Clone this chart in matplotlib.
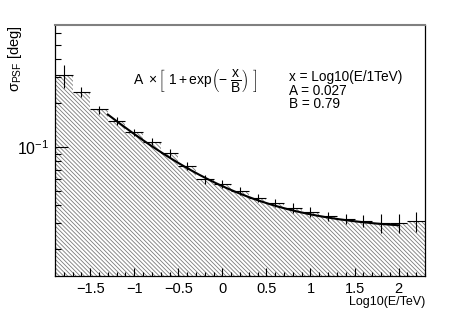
import numpy as np
import matplotlib
matplotlib.use("Agg")
import matplotlib.pyplot as plt
from matplotlib.ticker import MultipleLocator, LogLocator, NullFormatter

plt.rcParams['font.family'] = ['Liberation Sans', 'DejaVu Sans']
plt.rcParams['mathtext.fontset'] = 'custom'
plt.rcParams['mathtext.rm'] = 'Liberation Sans'
plt.rcParams['mathtext.it'] = 'Liberation Sans'
plt.rcParams['mathtext.bf'] = 'Liberation Sans:bold'
plt.rcParams['hatch.linewidth'] = 0.6

# Data
bin_edges = np.round(np.arange(-1.9, 2.3001, 0.2), 2)
bin_centers = (bin_edges[:-1] + bin_edges[1:]) / 2
sigma_psf = [0.311, 0.239, 0.181, 0.151, 0.126, 0.109, 0.0910, 0.0745, 0.0601,
             0.0558, 0.0500, 0.0450, 0.0412, 0.0382, 0.0360, 0.0337, 0.0321,
             0.0313, 0.0303, 0.0303, 0.0311]
sigma_err = [0.056, 0.019, 0.0114, 0.0095, 0.0070, 0.0060, 0.0057, 0.0047, 0.0038,
             0.0035, 0.0032, 0.0028, 0.0026, 0.0030, 0.0028, 0.0025, 0.0025,
             0.0030, 0.0045, 0.0045, 0.0049]
fit_A = 0.027
fit_B = 0.79
fit_range = (-1.3, 2.0)

fig = plt.figure(figsize=(4.63, 3.16), dpi=100)
ax = fig.add_axes([55/463, 40/316, 370/463, 251/316])

ymin, ymax = 0.0131, 0.685
ax.stairs(sigma_psf, bin_edges, baseline=ymin*0.5, fill=True, facecolor='none',
          edgecolor='#7a7a7a', linewidth=0, hatch='\\' * 8)
ax.errorbar(bin_centers, sigma_psf, xerr=0.1, yerr=sigma_err, fmt='none',
            ecolor='black', elinewidth=0.8, capsize=0)
xf = np.linspace(fit_range[0], fit_range[1], 300)
ax.plot(xf, fit_A * (1 + np.exp(-xf / fit_B)), color='black', lw=1.5)

ax.set_yscale('log')
ax.set_xlim(bin_edges[0], bin_edges[-1])
ax.set_ylim(ymin, ymax)

ax.xaxis.set_major_locator(MultipleLocator(0.5))
ax.xaxis.set_minor_locator(MultipleLocator(0.1))
ax.yaxis.set_major_locator(LogLocator(base=10))
ax.yaxis.set_minor_locator(LogLocator(base=10, subs=np.arange(2, 10)))
ax.yaxis.set_minor_formatter(NullFormatter())
ax.tick_params(axis='x', which='major', direction='in', length=6, width=0.8,
               labelsize=10.5, pad=4)
ax.tick_params(axis='x', which='minor', direction='in', length=3, width=0.8)
ax.tick_params(axis='y', which='major', direction='in', length=9, width=0.8,
               labelsize=11.5, pad=4)
ax.tick_params(axis='y', which='minor', direction='in', length=4.5, width=0.8)
ax.xaxis.set_major_formatter(plt.FuncFormatter(
    lambda v, p: ('\u2212' if v < 0 else '') + ('%g' % abs(v))))

for s in ax.spines.values():
    s.set_linewidth(0.9)
ax.spines['top'].set_color('#808080')
ax.spines['top'].set_linewidth(1.5)

fig.text(15/463, 1 - 25/316, r'$\sigma_{\rm PSF}$ [deg]', rotation=90,
         ha='center', va='top', fontsize=10.5)
fig.text(425/463, 1 - 302/316, 'Log10(E/TeV)', ha='right', va='center', fontsize=9)

fig.text(195/463, 1 - 80/316,
         r'$\mathrm{A}\ \times \left[\ 1 + \mathrm{exp}\left(-\ \dfrac{x}{B}\right)\ \right]$',
         ha='center', va='center', fontsize=10)
fig.text(289/463, 1 - 77/316, 'x = Log10(E/1TeV)', ha='left', va='center', fontsize=9.8)
fig.text(289/463, 1 - 91/316, 'A = 0.027', ha='left', va='center', fontsize=9.8)
fig.text(289/463, 1 - 104/316, 'B = 0.79', ha='left', va='center', fontsize=9.8)

fig.savefig('out.png', dpi=100)
